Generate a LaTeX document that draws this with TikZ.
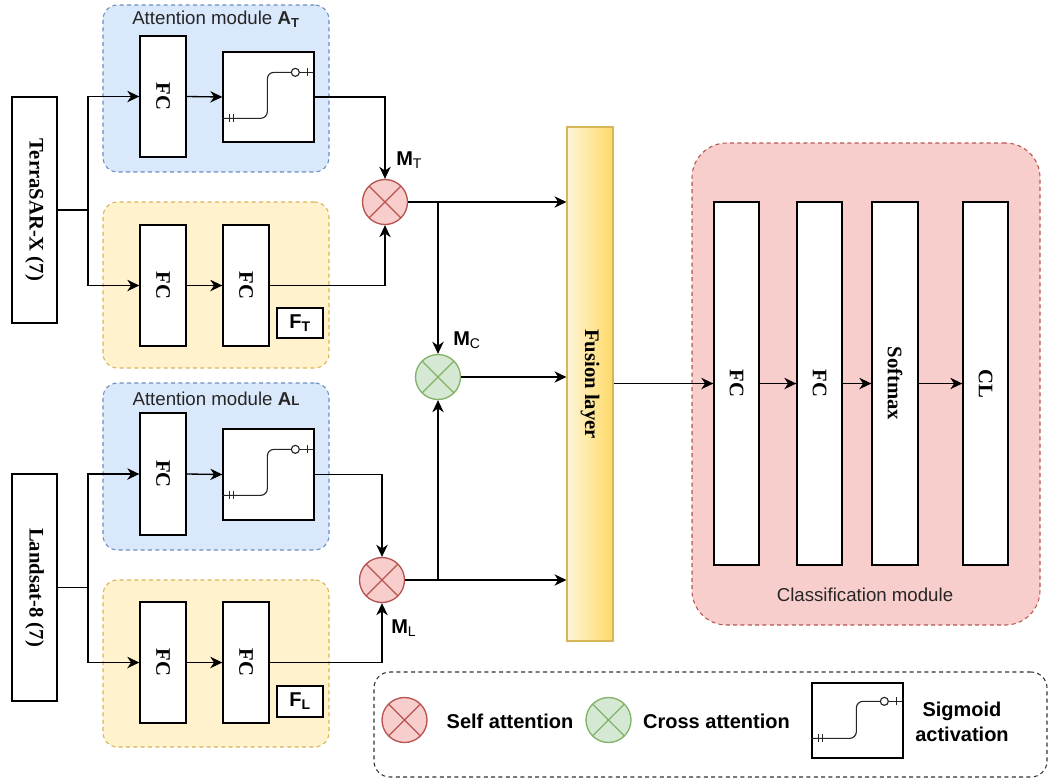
\documentclass[tikz,border=0pt]{standalone}
\usepackage{fontspec}
\setmainfont{Liberation Serif}
\setsansfont{Liberation Sans}
\usetikzlibrary{arrows.meta,calc}
\definecolor{blueF}{HTML}{DAE8FC}
\definecolor{blueD}{HTML}{6C8EBF}
\definecolor{yelF}{HTML}{FFF2CC}
\definecolor{yelL}{HTML}{FFF6D8}
\definecolor{yelD}{HTML}{D6B656}
\definecolor{yelG}{HTML}{FFD966}
\definecolor{redF}{HTML}{F8CECC}
\definecolor{redD}{HTML}{B85450}
\definecolor{grnF}{HTML}{D5E8D4}
\definecolor{grnD}{HTML}{82B366}
\newcommand\serlab[1]{\rotatebox{-90}{\fontsize{15.5}{18}\selectfont\bfseries #1}}
\newcommand\sigglyph[3]{%
  \begin{scope}[shift={(#1.north west)}]
    \draw[glyph, rounded corners=5pt] (0,#2) -- (45,#2) -- (45,#3) -- (69,#3);
    \draw[glyph] (73,#3) circle[radius=3pt];
    \draw[glyph] (77,#3) -- (91,#3);
    \draw[glyph] (7,#2-4) -- (7,#2+4);
    \draw[glyph] (11,#2-4) -- (11,#2+4);
    \draw[glyph] (85,#3-4) -- (85,#3+4);
  \end{scope}}
\begin{document}
\begin{tikzpicture}[x=0.75pt,y=-0.75pt,
  blk/.style={draw=black, fill=white, line width=1pt, inner sep=0pt},
  sz/.style 2 args={minimum width=#1*0.75pt, minimum height=#2*0.75pt},
  grp/.style={rounded corners=11pt, dash pattern=on 3pt off 2.5pt, line width=0.8pt, inner sep=0pt},
  bluegrp/.style={grp, draw=blueD, fill=blueF},
  yelgrp/.style={grp, draw=yelD, fill=yelF},
  arr/.style={-{Stealth[length=9pt,width=8.5pt,inset=2.8pt]}, line width=1pt},
  ln/.style={line width=1pt},
  glyph/.style={line width=0.85pt, black!85},
  xcirc/.style={circle, minimum size=45*0.75pt, inner sep=0pt, line width=1pt,
    path picture={\draw[line width=0.9pt, #1]
      (path picture bounding box.north west) -- (path picture bounding box.south east)
      (path picture bounding box.north east) -- (path picture bounding box.south west);}},
  selfc/.style={xcirc=redD, draw=redD, fill=redF},
  crossc/.style={xcirc=grnD, draw=grnD, fill=grnF},
  ttl/.style={font=\sffamily\fontsize{14}{16}\selectfont, text=black!85},
  mlab/.style={font=\sffamily\fontsize{15}{17}\selectfont, anchor=base west, inner sep=0pt},
  leg/.style={font=\sffamily\bfseries\fontsize{15}{19}\selectfont, align=center, inner sep=0pt}
]
\useasboundingbox (0,0) rectangle (1049,779);

% groups
\node[bluegrp, sz={226}{167}] (gAT) at (216,88.5) {};
\node[yelgrp, sz={226}{166}] (gFT) at (216,285) {};
\node[bluegrp, sz={226}{167}] (gAL) at (216,466.5) {};
\node[yelgrp, sz={226}{167}] (gFL) at (216,663.5) {};
\node[grp, draw=redD, fill=redF, rounded corners=26pt, sz={348}{482}] (gCls) at (866,384) {};
\node[grp, draw=black!80, fill=white, rounded corners=12pt, sz={673}{105}] (gLeg) at (710.5,724.5) {};

\node[ttl] (tAT) at (216,19) {Attention module \textbf{A}\textsubscript{\textbf{T}}};
\node[ttl] (tAL) at (216,399) {Attention module \textbf{A}{\fontsize{10}{10}\selectfont\textbf{L}}};
\node[ttl] (tCls) at (865,595) {Classification module};

% inputs
\node[blk, sz={45}{226}] (terra) at (34.5,210) {\serlab{TerraSAR-X (7)}};
\node[blk, sz={45}{227}] (land) at (34.5,587.5) {\serlab{Landsat-8 (7)}};

% TerraSAR branch
\node[blk, sz={46}{121}] (fcT1) at (163,96.5) {\serlab{FC}};
\node[blk, sz={91}{90}] (sigT) at (268.5,97) {};
\node[blk, sz={46}{121}] (fcT2) at (163,285.5) {\serlab{FC}};
\node[blk, sz={46}{121}] (fcT3) at (246,285.5) {\serlab{FC}};
\node[blk, sz={46}{30}] (FT) at (300,323) {\sffamily\bfseries\fontsize{15}{17}\selectfont F\textsubscript{T}};
\sigglyph{sigT}{67}{21}

% Landsat branch
\node[blk, sz={46}{122}] (fcL1) at (163,474) {\serlab{FC}};
\node[blk, sz={91}{91}] (sigL) at (268.5,474.5) {};
\node[blk, sz={46}{121}] (fcL2) at (163,662.5) {\serlab{FC}};
\node[blk, sz={46}{121}] (fcL3) at (246,662.5) {\serlab{FC}};
\node[blk, sz={46}{31}] (FL) at (300,701.5) {\sffamily\bfseries\fontsize{15}{17}\selectfont F\textsubscript{L}};
\sigglyph{sigL}{67}{21}

% attention circles
\node[selfc] (cT) at (385,202) {};
\node[selfc] (cL) at (382,580) {};
\node[crossc] (cC) at (438,377) {};
\node[mlab] (mT) at (396,165) {\textbf{M}\textsubscript{T}};
\node[mlab] (mC) at (453,345) {\textbf{M}\textsubscript{C}};
\node[mlab] (mL) at (391,633) {\textbf{M}\textsubscript{L}};

% fusion
\node[draw=yelD, line width=0.8pt, left color=yelL, right color=yelG, sz={46}{514}, inner sep=0pt] (fus) at (590,384) {\serlab{Fusion layer}};

% classification
\node[blk, sz={45}{363}] (cf1) at (736.5,383.5) {\serlab{FC}};
\node[blk, sz={45}{363}] (cf2) at (819.5,383.5) {\serlab{FC}};
\node[blk, sz={46}{363}] (csm) at (895,383.5) {\serlab{Softmax}};
\node[blk, sz={45}{363}] (ccl) at (985.5,383.5) {\serlab{CL}};

% connectors
\coordinate (jT) at (88,210);
\coordinate (jL) at (88,587.5);
\draw[ln] (terra.east) -- (jT);
\draw[arr] (jT) |- (fcT1.west);
\draw[arr] (jT) |- (fcT2.west);
\draw[arr] (fcT1.east) -- (sigT.west);
\draw[arr] (sigT.east) -| (cT.north);
\draw[arr] (fcT2.east) -- (fcT3.west);
\draw[arr] (fcT3.east) -| (cT.south);

\draw[ln] (land.east) -- (jL);
\draw[arr] (jL) |- (fcL1.west);
\draw[arr] (jL) |- (fcL2.west);
\draw[arr] (fcL1.east) -- (sigL.west);
\draw[arr] (sigL.east) -| (cL.north);
\draw[arr] (fcL2.east) -- (fcL3.west);
\draw[arr] (fcL3.east) -| (cL.south);

\coordinate (jC1) at (cT.east -| cC);
\coordinate (jC2) at (cL.east -| cC);
\draw[arr] (cT.east) -- (cT.east -| fus.west);
\draw[arr] (cL.east) -- (cL.east -| fus.west);
\draw[arr] (cC.east) -- (cC.east -| fus.west);
\draw[arr] (jC1) -- (cC.north);
\draw[arr] (jC2) -- (cC.south);

\draw[arr] (fus.east |- cf1.west) -- (cf1.west);
\draw[arr] (cf1.east) -- (cf2.west);
\draw[arr] (cf2.east) -- (csm.west);
\draw[arr] (csm.east) -- (ccl.west);

% legend
\node[selfc] (lgS) at (404.5,720) {};
\node[leg] (lgSt) at (510,721) {Self attention};
\node[crossc] (lgC) at (608.5,720) {};
\node[leg] (lgCt) at (716.5,721) {Cross attention};
\node[blk, sz={91}{75}] (lgG) at (857.5,720.5) {};
\sigglyph{lgG}{56}{19}
\node[leg] (lgGt) at (962,722) {Sigmoid\\activation};
\end{tikzpicture}
\end{document}
